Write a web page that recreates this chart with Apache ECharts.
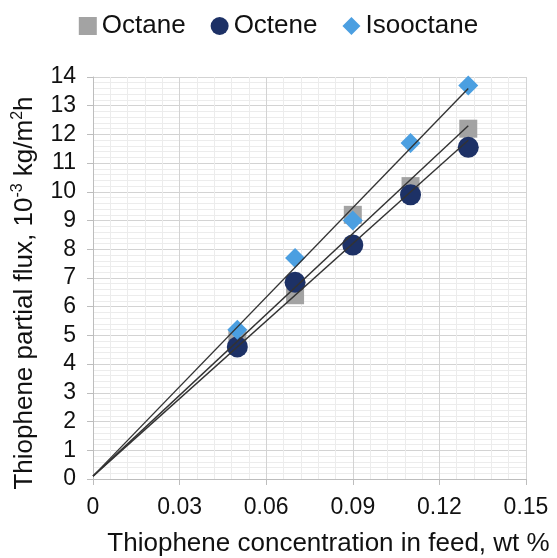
<!DOCTYPE html>
<html>
<head>
<meta charset="utf-8">
<script src="https://cdn.jsdelivr.net/npm/echarts@6/dist/echarts.min.js"></script>
<style>html,body{margin:0;padding:0;background:#fff;}#c{width:557px;height:558px;}</style>
</head>
<body>
<div id="c"></div>
<script>
var xValues = [0.05, 0.07, 0.09, 0.11, 0.13];
var octane = [4.9, 6.4, 9.2, 10.2, 12.2];
var octene = [4.6, 6.85, 8.15, 9.9, 11.55];
var isooctane = [5.2, 7.7, 9.0, 11.7, 13.7];
// trendline endpoints: [x, y]
var octaneTrend = [[0, 0.1], [0.13, 12.3]];
var octeneTrend = [[0, 0.1], [0.13, 11.8]];
var isooctaneTrend = [[0, 0.1], [0.13, 13.6]];
var xTicks = [0, 0.03, 0.06, 0.09, 0.12, 0.15];

function pts(ys) { return xValues.map(function (x, i) { return [x, ys[i]]; }); }
var font = 'Liberation Sans, Arial, sans-serif';
var lineStyle = { color: '#333333', width: 1.4 };
function trend(d) {
  return { type: 'line', data: d, symbol: 'none', lineStyle: lineStyle, z: 5, silent: true, animation: false };
}
var chart = echarts.init(document.getElementById('c'));
chart.setOption({
  animation: false,
  legend: {
    top: 8, left: 'center', itemWidth: 18, itemHeight: 18, itemGap: 25,
    textStyle: { fontFamily: font, fontSize: 26, color: '#111' },
    data: [
      { name: 'Octane', icon: 'rect' },
      { name: 'Octene', icon: 'circle' },
      { name: 'Isooctane', icon: 'diamond' }
    ]
  },
  grid: { left: 93, right: 31, top: 77, bottom: 79, containLabel: false, outerBoundsMode: 'none' },
  xAxis: {
    type: 'value', min: 0, max: 0.15, interval: 0.03,
    name: 'Thiophene concentration in feed, wt %', nameLocation: 'middle', nameGap: 52,
    nameTextStyle: { fontFamily: font, fontSize: 26, color: '#111', padding: [0, 0, 0, 38] },
    axisLine: { show: true, lineStyle: { color: '#bdbdbd' } },
    axisTick: { show: true, length: 6, lineStyle: { color: '#bdbdbd' } },
    axisLabel: { fontFamily: font, fontSize: 23, color: '#111', margin: 17,
      formatter: function (v) { var s = xTicks.find(function (t) { return Math.abs(t - v) < 1e-9; }); return s === 0 ? '0' : String(s); } },
    splitLine: { show: true, lineStyle: { color: '#d3d3d3' } },
    minorTick: { show: false, splitNumber: 5 },
    minorSplitLine: { show: true, lineStyle: { color: '#ececec' } }
  },
  yAxis: {
    type: 'value', min: 0, max: 14, interval: 1,
    name: 'Thiophene partial flux, 10{sup|-3} kg/m{sup|2}h', nameLocation: 'middle', nameGap: 53, nameRotate: 90,
    nameTextStyle: { fontFamily: font, fontSize: 26, color: '#111', lineHeight: 30, padding: [0, 30, 0, 0],
      rich: { sup: { fontFamily: font, fontSize: 16, verticalAlign: 'top', lineHeight: 18, color: '#111' } } },
    axisLine: { show: true, lineStyle: { color: '#bdbdbd' } },
    axisTick: { show: true, length: 6, lineStyle: { color: '#bdbdbd' } },
    axisLabel: { fontFamily: font, fontSize: 23, color: '#111', margin: 17 },
    splitLine: { show: true, lineStyle: { color: '#d3d3d3' } },
    minorTick: { show: false, splitNumber: 5 },
    minorSplitLine: { show: true, lineStyle: { color: '#ececec' } }
  },
  series: [
    { name: 'Octane', type: 'scatter', symbol: 'rect', symbolSize: 18, data: pts(octane), itemStyle: { color: '#a3a3a3', opacity: 1 }, z: 2 },
    { name: 'Octene', type: 'scatter', symbol: 'circle', symbolSize: 21, data: pts(octene), itemStyle: { color: '#1d3166', opacity: 1 }, z: 3 },
    { name: 'Isooctane', type: 'scatter', symbol: 'diamond', symbolSize: 20, data: pts(isooctane), itemStyle: { color: '#4b9fe1', opacity: 1 }, z: 4 },
    trend(octaneTrend), trend(octeneTrend), trend(isooctaneTrend)
  ]
});
</script>
</body>
</html>
